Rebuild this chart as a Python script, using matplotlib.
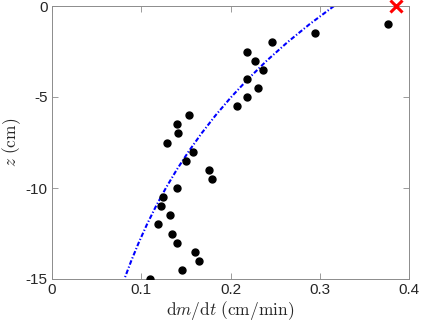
import matplotlib
matplotlib.use("Agg")
import matplotlib.pyplot as plt

plt.rcParams['axes.unicode_minus'] = False
plt.rcParams['mathtext.fontset'] = 'cm'
plt.rcParams['font.family'] = ['Liberation Sans', 'DejaVu Sans']

# measured points
z_pts = [-1.0, -1.5, -2.0, -2.5, -3.0, -3.5, -4.0, -4.5, -5.0, -5.5, -6.0, -6.5,
         -7.0, -7.5, -8.0, -8.5, -9.0, -9.5, -10.0, -10.5, -11.0, -11.5, -12.0,
         -12.5, -13.0, -13.5, -14.0, -14.5, -15.0]
rate_pts = [0.376, 0.295, 0.247, 0.218, 0.228, 0.236, 0.218, 0.231, 0.218, 0.207,
            0.154, 0.140, 0.141, 0.129, 0.158, 0.150, 0.176, 0.179, 0.140, 0.124,
            0.122, 0.132, 0.119, 0.134, 0.140, 0.160, 0.165, 0.146, 0.110]

# outlier marker
z_out = [0.0]
rate_out = [0.385]

# fitted curve
z_fit = [0, -1, -2, -3, -4, -5, -6, -7, -8, -9, -10, -11, -12, -13, -14, -15]
rate_fit = [0.316, 0.2886, 0.2636, 0.2407, 0.2199, 0.2008, 0.1834, 0.1675, 0.1530,
            0.1397, 0.1276, 0.1165, 0.1064, 0.0972, 0.0888, 0.0811]

xticks = [0, 0.1, 0.2, 0.3, 0.4]
xticklabels = ['0', '0.1', '0.2', '0.3', '0.4']
yticks = [0, -5, -10, -15]
yticklabels = ['0', '-5', '-10', '-15']

fig = plt.figure(figsize=(4.21, 3.25), dpi=100)
ax = fig.add_axes([52/421, 46/325, 357/421, 273/325])

ax.plot(rate_fit, z_fit, color='#0000ff', linestyle='-.', linewidth=1.5,
        dashes=(2.2, 1.0, 0.6, 1.0), zorder=2)
ax.plot(rate_pts, z_pts, 'o', color='black', markersize=5, zorder=3)
ax.plot(rate_out, z_out, 'x', color='#ff0000', markersize=8, markeredgewidth=2.2,
        clip_on=False, zorder=4)

ax.set_xlim(0, 0.4)
ax.set_ylim(-15, 0)
ax.set_xticks(xticks)
ax.set_xticklabels(xticklabels)
ax.set_yticks(yticks)
ax.set_yticklabels(yticklabels)

spine_color = '#8c8c8c'
for s in ax.spines.values():
    s.set_color(spine_color)
    s.set_linewidth(0.7)
ax.tick_params(direction='in', length=4, width=0.6, color=spine_color,
               labelsize=11, labelcolor='#262626', top=True, right=True, pad=3)

ax.set_xlabel(r'$\mathrm{d}m/\mathrm{d}t\ \mathrm{(cm/min)}$', fontsize=12.5,
              color='#262626', labelpad=1)
ax.set_ylabel(r'$z\ \mathrm{(cm)}$', fontsize=12.5, color='#262626', labelpad=2)

fig.savefig('out.png', dpi=100)
